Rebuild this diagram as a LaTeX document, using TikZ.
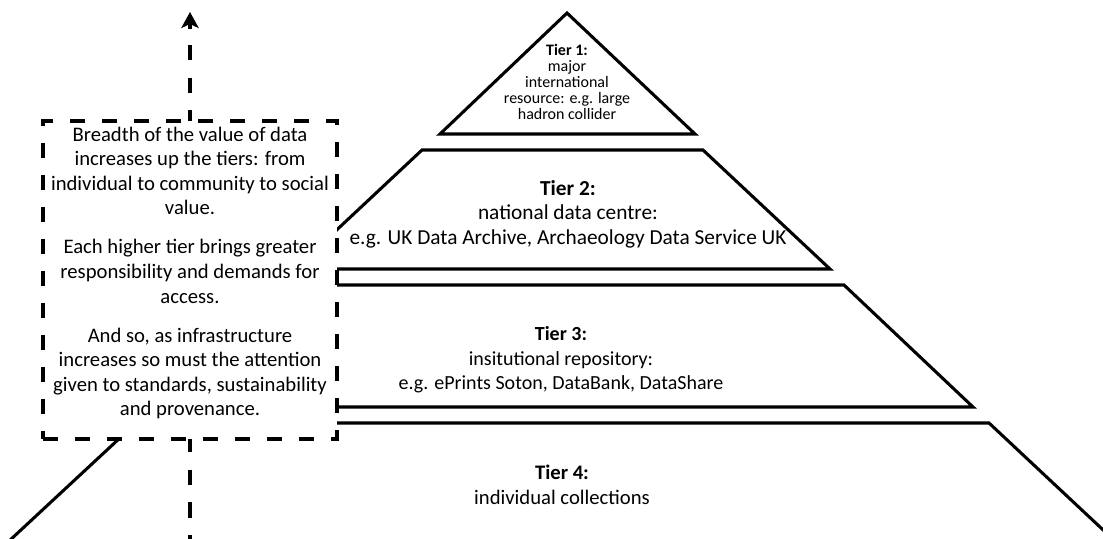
\documentclass[tikz,border=0pt]{standalone}
\usepackage{fontspec}
\setmainfont{Carlito}
\usetikzlibrary{arrows.meta}
\begin{document}
\begin{tikzpicture}[x=0.75pt,y=-0.75pt,
  tierline/.style={line width=2.3pt, line join=miter},
  dashbox/.style={draw, fill=white, dash pattern=on 11.5pt off 12.5pt, line width=2.6pt, inner sep=0pt,
    minimum width=220.5pt, minimum height=238.5pt},
  arrowline/.style={line width=2.4pt, dash pattern=on 11.5pt off 13pt},
  arrowtip/.style={line width=2.4pt, solid, -{Stealth[length=12pt,width=13pt,inset=3pt]}},
  bigtext/.style={align=center, font=\fontsize{15.5pt}{18.4pt}\selectfont, inner sep=0pt},
  smalltext/.style={align=center, font=\fontsize{12pt}{12pt}\selectfont, inner sep=0pt}
]
\useasboundingbox (0,0) rectangle (1103,539);
\begin{scope}
\clip (0,0) rectangle (1103,539);
% vertical arrow
\coordinate (atop) at (190,12);
\coordinate (aneck) at (190,29);
\coordinate (astart) at (190,45);
\coordinate (abot) at (190,545);
\draw[arrowline] (astart) -- (abot);
\draw[arrowtip] (aneck) -- (atop);
% tiers
\coordinate (t1a) at (567,13);
\coordinate (t1l) at (440,134);
\coordinate (t1r) at (695,134);
\draw[tierline] (t1a) -- (t1l) -- (t1r) -- cycle;
\coordinate (t2tl) at (422,150);
\coordinate (t2tr) at (703,150);
\coordinate (t2br) at (830,269);
\coordinate (t2bl) at (295,269);
\draw[tierline] (t2tl) -- (t2tr) -- (t2br) -- (t2bl) -- cycle;
\coordinate (t3tl) at (286,285);
\coordinate (t3tr) at (844,285);
\coordinate (t3br) at (973,407);
\coordinate (t3bl) at (157,407);
\draw[tierline] (t3tl) -- (t3tr) -- (t3br) -- (t3bl) -- cycle;
\coordinate (t4tl) at (136,423);
\coordinate (t4tr) at (989,423);
\coordinate (t4br) at (1116,542);
\coordinate (t4bl) at (8,542);
\draw[tierline] (t4bl) -- (t4tl) -- (t4tr) -- (t4br);
% note box
\node[dashbox] (note) at (190,280) {};
\end{scope}
\node[bigtext] (notetext) at (190,273) {Breadth of the value of data\\increases up the tiers: from\\individual to community to social\\value.\\[11pt]Each higher tier brings greater\\responsibility and demands for\\access.\\[11pt]And so, as infrastructure\\increases so must the attention\\given to standards, sustainability\\and provenance.};
\node[smalltext] (tier1) at (567,82) {\textbf{Tier 1:}\\major\\international\\resource: e.g. large\\hadron collider};
\node[bigtext, font=\fontsize{16pt}{18.4pt}\selectfont] (tier2) at (568,214) {\textbf{Tier 2:}\\national data centre:\\e.g. UK Data Archive, Archaeology Data Service UK};
\node[bigtext, font=\fontsize{15pt}{18.4pt}\selectfont] (tier3) at (561,360) {\textbf{Tier 3:}\\insitutional repository:\\e.g. ePrints Soton, DataBank, DataShare};
\node[bigtext] (tier4) at (562,485) {\textbf{Tier 4:}\\individual collections};
\end{tikzpicture}
\end{document}
